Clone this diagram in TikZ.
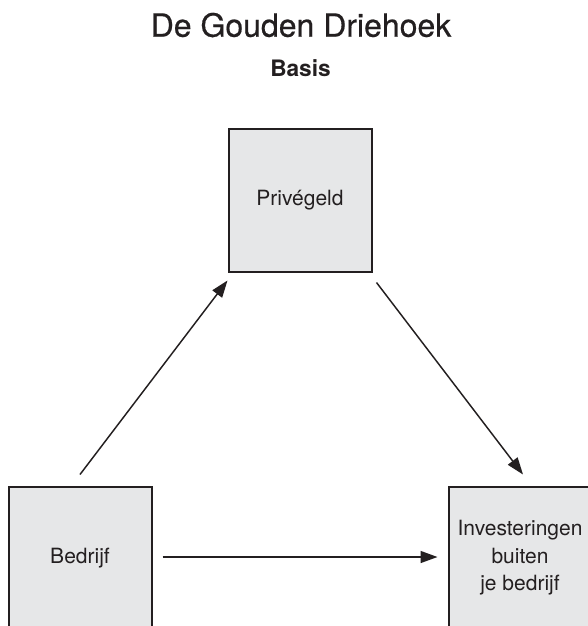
\documentclass[tikz,border=0pt]{standalone}
\usepackage{fontspec}
\setmainfont{TeX Gyre Heros}
\newfontfamily\titlefont[FakeBold=0.5]{TeX Gyre Heros}
\usetikzlibrary{arrows.meta,calc}
\definecolor{ink}{HTML}{231F20}
\definecolor{boxfill}{HTML}{E6E7E8}
\begin{document}
\begin{tikzpicture}[x=0.75pt,y=-0.75pt,
  box/.style={draw=ink,line width=1.5pt,fill=boxfill,minimum width=107.25pt,minimum height=107.25pt,inner sep=0pt,align=center,font=\fontsize{15.75}{20.6}\selectfont,text=ink},
  conn/.style={draw=ink,line width=1.1pt,-{Triangle[length=12.75pt,width=9pt]}},
  titletext/.style={text=ink,anchor=base,inner sep=0pt}]
\useasboundingbox (0,0) rectangle (588,626);
\fill[white] (0,0) rectangle (588,626);
\clip (0,0) rectangle (588,626);
\node[titletext,font=\titlefont\fontsize{24}{28}\selectfont] (title) at (301,36.7) {De Gouden Driehoek};
\node[titletext,font=\bfseries\fontsize{17}{20}\selectfont] (sub) at (300.5,76) {Basis};
\node[box] (priv) at (300,200) {Privégeld};
\node[box] (bed) at (80,558) {Bedrijf};
\node[box] (inv) at (520,558) {Investeringen\\buiten\\je bedrijf};
\draw[conn] ($(bed.north)+(0,-11)$) -- ($(priv.south west)+(0,8)$);
\draw[conn] ($(priv.south east)+(4,10)$) -- ($(inv.north)+(3,-11)$);
\draw[conn] ($(bed.east)+(10,-1)$) -- ($(inv.west)+(-10,-1)$);
\end{tikzpicture}
\end{document}
